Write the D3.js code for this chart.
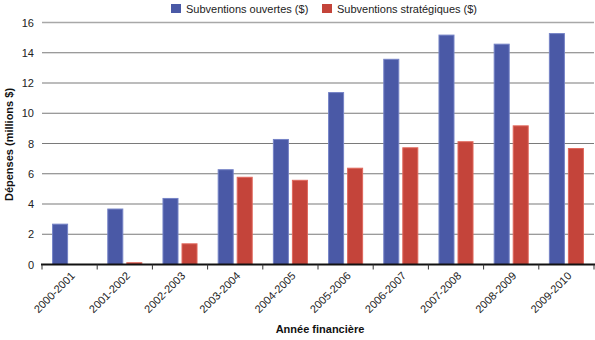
<!DOCTYPE html>
<html>
<head>
<meta charset="utf-8">
<script src="https://cdn.jsdelivr.net/npm/d3@7"></script>
<style>
  html, body { margin: 0; padding: 0; background: #fff; }
  svg { display: block; font-family: "Liberation Sans", Arial, sans-serif; }
</style>
</head>
<body>
<svg id="chart" width="595" height="340"></svg>
<script>
// Fiscal years and spending (millions of dollars)
const years = ["2000-2001", "2001-2002", "2002-2003", "2003-2004", "2004-2005",
               "2005-2006", "2006-2007", "2007-2008", "2008-2009", "2009-2010"];
const seriesNames = ["Subventions ouvertes ($)", "Subventions stratégiques ($)"];
const ouvertes = [2.7, 3.7, 4.4, 6.3, 8.3, 11.4, 13.6, 15.2, 14.6, 15.3];
const strategiques = [0, 0.15, 1.4, 5.8, 5.6, 6.4, 7.75, 8.15, 9.2, 7.7];
const yTicks = [0, 2, 4, 6, 8, 10, 12, 14, 16];

const fills = ["#4a59a6", "#c4443a"];
const strokes = ["#7583c6", "#e0685c"];

const svg = d3.select("#chart");
const m = { left: 42, right: 594, top: 22.5, bottom: 264.5 };

const x = d3.scaleBand().domain(years).range([m.left, m.right]).paddingInner(0).paddingOuter(0);
const xSub = d3.scaleBand().domain([0, 1]).range([0, x.bandwidth()])
  .paddingInner(0.158).paddingOuter(0.53);
const y = d3.scaleLinear().domain([0, 16]).range([m.bottom, m.top]);

// Horizontal gridlines with value labels
const yAxis = d3.axisLeft(y).tickValues(yTicks).tickSize(0).tickPadding(8);
const gy = svg.append("g").attr("transform", `translate(${m.left},0)`).call(yAxis);
gy.select(".domain").remove();
gy.selectAll("text").attr("font-size", 11).attr("fill", "#222")
  .attr("font-family", "Liberation Sans, Arial, sans-serif");

svg.append("g").selectAll("line")
  .data(yTicks.filter(d => d > 0))
  .join("line")
  .attr("x1", m.left).attr("x2", m.right)
  .attr("y1", d => y(d)).attr("y2", d => y(d))
  .attr("stroke", d => d === 16 ? "#a8a8a8" : "#7a7a7a")
  .attr("stroke-width", d => d === 16 ? 1.6 : 1.1);

// Bars
const series = [ouvertes, strategiques];
const groups = svg.append("g").selectAll("g")
  .data(years)
  .join("g")
  .attr("transform", d => `translate(${x(d)},0)`);

groups.selectAll("rect")
  .data((d, i) => series.map((s, k) => ({ k, v: s[i] })).filter(e => e.v > 0))
  .join("rect")
  .attr("x", d => xSub(d.k) + 0.5)
  .attr("width", xSub.bandwidth() - 1)
  .attr("y", d => y(d.v) + 0.5)
  .attr("height", d => Math.max(0, y(0) - y(d.v) - 0.5))
  .attr("fill", d => fills[d.k])
  .attr("stroke", d => strokes[d.k])
  .attr("stroke-width", 1);

// Baseline with category-boundary ticks
svg.append("line")
  .attr("x1", m.left - 1).attr("x2", m.right + 1)
  .attr("y1", m.bottom).attr("y2", m.bottom)
  .attr("stroke", "#111").attr("stroke-width", 2);

const boundaries = years.map(d => x(d)).concat([m.right]);
svg.append("g").selectAll("line")
  .data(boundaries)
  .join("line")
  .attr("x1", d => d).attr("x2", d => d)
  .attr("y1", m.bottom).attr("y2", m.bottom + 5)
  .attr("stroke", "#333").attr("stroke-width", 1);

// Rotated category labels
svg.append("g").selectAll("text")
  .data(years)
  .join("text")
  .attr("transform", d => `translate(${x(d) + x.bandwidth() / 2 + 6},${m.bottom + 12}) rotate(-45)`)
  .attr("text-anchor", "end")
  .attr("font-size", 11)
  .attr("fill", "#222")
  .text(d => d);

// Axis titles
svg.append("text")
  .attr("transform", `translate(13,${(m.top + m.bottom) / 2 + 1}) rotate(-90)`)
  .attr("text-anchor", "middle")
  .attr("font-size", 11).attr("font-weight", "bold").attr("fill", "#111")
  .text("Dépenses (millions $)");

svg.append("text")
  .attr("x", (m.left + m.right) / 2 + 2).attr("y", 333)
  .attr("text-anchor", "middle")
  .attr("font-size", 11).attr("font-weight", "bold").attr("fill", "#111")
  .text("Année financière");

// Legend
const legendX = [171, 322];
const legend = svg.append("g").selectAll("g")
  .data(seriesNames)
  .join("g")
  .attr("transform", (d, i) => `translate(${legendX[i]},4)`);
legend.append("rect")
  .attr("width", 10).attr("height", 9)
  .attr("fill", (d, i) => fills[i]);
legend.append("text")
  .attr("x", 15).attr("y", 9)
  .attr("font-size", 11).attr("fill", "#222")
  .text(d => d);
</script>
</body>
</html>
